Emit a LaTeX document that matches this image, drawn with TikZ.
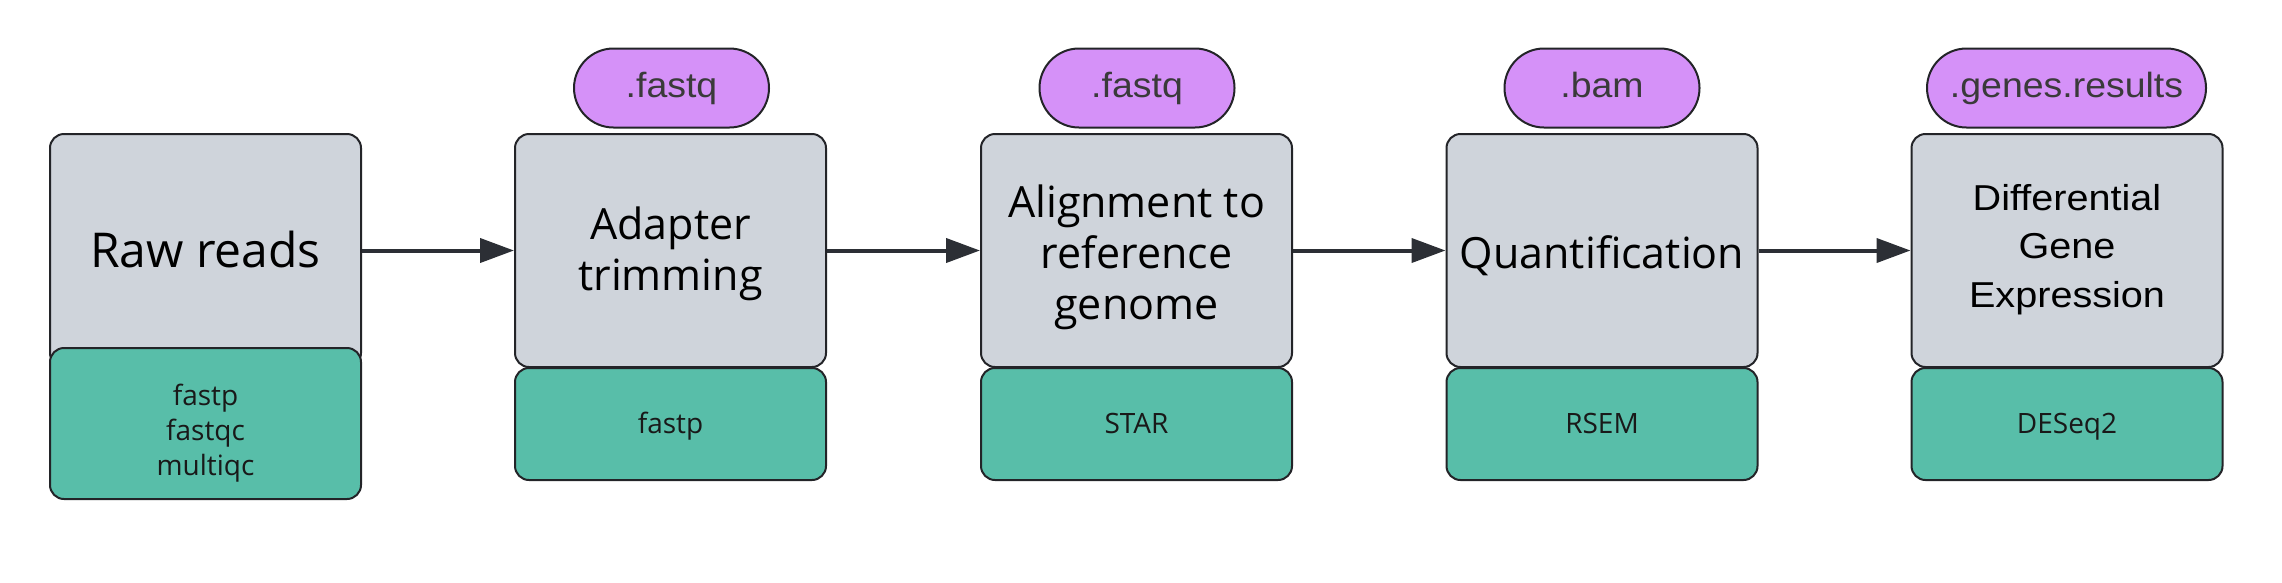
\documentclass[tikz,border=0pt]{standalone}
\usepackage{fontspec}
\setmainfont{Open Sans}
\newfontfamily\arialwide[FakeStretch=1.1]{Liberation Sans}
\newfontfamily\arialpill[FakeStretch=1.07]{Liberation Sans}
\usetikzlibrary{arrows.meta,shapes.misc}
\definecolor{graybox}{HTML}{CFD4DB}
\definecolor{greenbox}{HTML}{58BEA9}
\definecolor{pillc}{HTML}{D591F8}
\definecolor{edgec}{HTML}{232428}
\definecolor{arrowc}{HTML}{2C2F35}
\definecolor{pilltext}{HTML}{3A3A3A}
\newcommand{\boxlines}[1]{\begin{tabular}[t]{@{}c@{}}#1\end{tabular}}
\tikzset{
  mainbox/.style={draw=edgec, line width=2pt, fill=graybox, rounded corners=14pt,
    minimum width=311pt, minimum height=233pt, inner sep=0pt,
    font=\fontsize{43}{51}\selectfont, text=black},
  toolbox/.style={draw=edgec, line width=2pt, fill=greenbox, rounded corners=14pt,
    minimum width=311pt, minimum height=112pt, inner sep=0pt,
    font=\fontsize{28}{35}\selectfont, text=black!90, text height=18pt, text depth=0pt},
  pill/.style={draw=edgec, line width=2pt, fill=pillc, rounded rectangle,
    minimum height=79pt, inner sep=0pt, font=\arialpill\fontsize{35}{42}\selectfont,
    text=pilltext, text height=19pt, text depth=0pt},
  flow/.style={draw=arrowc, line width=4pt, -{Triangle[length=34pt,width=24pt]}}
}
\begin{document}
\begin{tikzpicture}[x=1pt,y=-1pt]
\useasboundingbox (0,0) rectangle (2282,582);
% main boxes
\node[mainbox, font=\fontsize{48}{52}\selectfont, text height=33pt, text depth=0pt] (g1) at (205.5,250.5) {\boxlines{Raw reads}};
\node[mainbox, text height=0pt, text depth=23pt] (g2) at (670.5,250.5) {\boxlines{Adapter\\trimming}};
\node[mainbox, text height=0pt, text depth=67pt] (g3) at (1136.5,250.5) {\boxlines{Alignment to\\reference\\genome}};
\node[mainbox, text height=35pt, text depth=0pt] (g4) at (1602,250.5) {\boxlines{Quantification}};
\node[mainbox, font=\arialwide\fontsize{36}{48.5}\selectfont, text height=0pt, text depth=81pt] (g5) at (2067,250.5) {\boxlines{Differential\\Gene\\Expression}};
% tool boxes
\node[toolbox, minimum height=151pt, text height=0pt, text depth=37pt] (t1) at (205.5,423.5) {\boxlines{fastp\\fastqc\\multiqc}};
\node[toolbox] (t2) at (670.5,424) {\boxlines{fastp}};
\node[toolbox] (t3) at (1136.5,424) {\boxlines{STAR}};
\node[toolbox] (t4) at (1602,424) {\boxlines{RSEM}};
\node[toolbox] (t5) at (2067,424) {\boxlines{DESeq2}};
% file type pills
\node[pill, minimum width=195pt] (p2) at (671.5,88) {.fastq};
\node[pill, minimum width=195pt] (p3) at (1137,88) {.fastq};
\node[pill, minimum width=195pt] (p4) at (1602,88) {.bam};
\node[pill, minimum width=279pt] (p5) at (2066.5,88) {.genes.results};
% connectors
\draw[flow] (g1.east) -- (g2.west);
\draw[flow] (g2.east) -- (g3.west);
\draw[flow] (g3.east) -- (g4.west);
\draw[flow] (g4.east) -- (g5.west);
\end{tikzpicture}
\end{document}
